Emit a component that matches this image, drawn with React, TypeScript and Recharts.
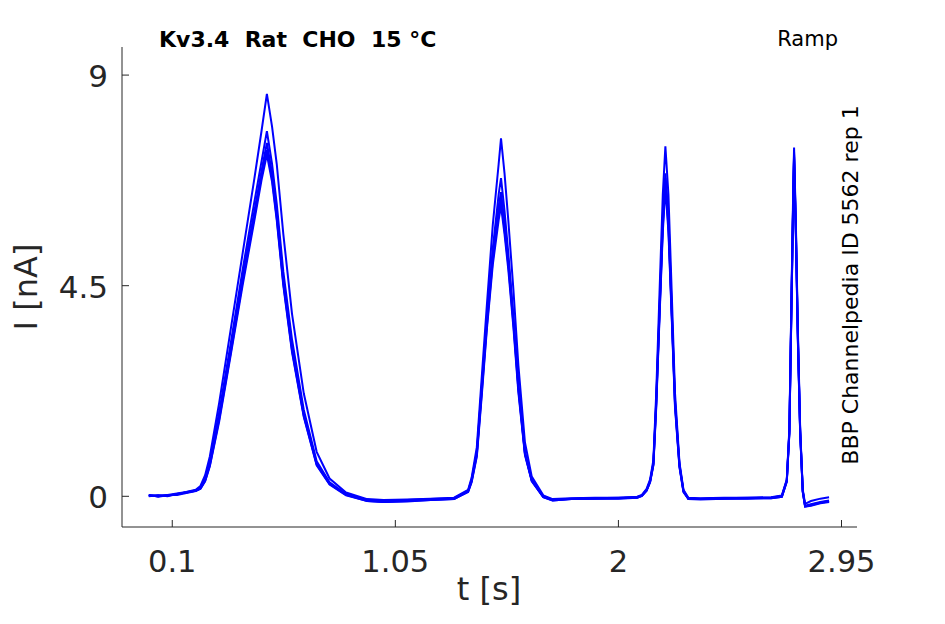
import React from "react";
import { LineChart, Line, XAxis, YAxis } from "recharts";

// time samples (s)
const TIME = [
  0, 0.04, 0.08, 0.12, 0.16, 0.2,
  0.22, 0.24, 0.26, 0.3, 0.35, 0.4, 0.45, 0.48, 0.503,
  0.525, 0.545, 0.573, 0.61, 0.66, 0.715, 0.77, 0.84, 0.93,
  1.0, 1.1, 1.2, 1.3, 1.36,
  1.375, 1.397, 1.418, 1.44, 1.465, 1.49, 1.5,
  1.515, 1.531, 1.553, 1.574, 1.602, 1.631, 1.68, 1.72,
  1.8, 1.9, 2.0, 2.08,
  2.1, 2.12, 2.135, 2.149, 2.161, 2.175, 2.189, 2.2,
  2.213, 2.227, 2.241, 2.26, 2.277, 2.298,
  2.35, 2.45, 2.55, 2.65,
  2.696, 2.717, 2.728, 2.737, 2.744, 2.748,
  2.756, 2.764, 2.774, 2.785, 2.795,
  2.82, 2.86, 2.897,
];

// current traces (nA)
const TRACE_A = [
  0.02, 0.0, 0.03, 0.06, 0.09, 0.14,
  0.22, 0.45, 0.85, 2.0, 3.6, 5.2, 6.8, 7.8, 8.6,
  7.9, 7.1, 5.6, 3.9, 2.2, 0.95, 0.38, 0.08, -0.06,
  -0.08, -0.07, -0.05, -0.03, 0.14,
  0.4, 1.05, 2.55, 4.1, 5.8, 7.1, 7.65,
  6.9, 5.9, 4.4, 2.8, 1.15, 0.42, 0.02, -0.06,
  -0.04, -0.03, -0.03, -0.01,
  0.03, 0.16, 0.36, 0.78, 2.2, 4.35, 6.45, 7.48,
  6.45, 4.35, 2.2, 0.72, 0.14, -0.03,
  -0.04, -0.03, -0.03, -0.02,
  0.02, 0.36, 1.45, 4.3, 6.45, 7.45,
  5.75, 3.6, 1.45, 0.14, -0.16,
  -0.1, -0.05, -0.02,
];
const TRACE_B = [
  0.01, 0.02, 0.0, 0.05, 0.08, 0.13,
  0.19, 0.38, 0.75, 1.8, 3.3, 4.85, 6.3, 7.15, 7.8,
  7.1, 6.25, 4.8, 3.35, 1.85, 0.75, 0.3, 0.05, -0.08,
  -0.1, -0.08, -0.06, -0.04, 0.12,
  0.36, 0.95, 2.35, 3.8, 5.3, 6.45, 6.8,
  6.1, 5.2, 3.85, 2.4, 0.95, 0.35, 0.0, -0.07,
  -0.05, -0.04, -0.03, -0.02,
  0.02, 0.14, 0.33, 0.72, 2.05, 4.0, 5.95, 6.9,
  5.95, 4.0, 2.05, 0.68, 0.12, -0.05,
  -0.05, -0.04, -0.03, -0.03,
  0.01, 0.34, 1.4, 4.2, 6.3, 7.35,
  5.65, 3.5, 1.4, 0.12, -0.2,
  -0.17, -0.12, -0.09,
];
const TRACE_C = [
  0.03, -0.01, 0.02, 0.04, 0.09, 0.12,
  0.17, 0.35, 0.7, 1.72, 3.2, 4.7, 6.1, 6.95, 7.55,
  6.9, 6.05, 4.62, 3.2, 1.77, 0.7, 0.27, 0.04, -0.09,
  -0.11, -0.09, -0.07, -0.05, 0.11,
  0.34, 0.92, 2.3, 3.75, 5.19, 6.2, 6.5,
  5.85, 5.05, 3.76, 2.34, 0.92, 0.34, -0.01, -0.08,
  -0.05, -0.04, -0.04, -0.02,
  0.02, 0.13, 0.32, 0.7, 2.0, 3.95, 5.85, 6.8,
  5.85, 3.95, 2.0, 0.66, 0.11, -0.05,
  -0.06, -0.04, -0.04, -0.03,
  0.0, 0.33, 1.38, 4.15, 6.25, 7.3,
  5.6, 3.45, 1.38, 0.11, -0.21,
  -0.18, -0.13, -0.1,
];
const TRACE_D = [
  0.0, 0.02, 0.01, 0.05, 0.08, 0.12,
  0.16, 0.33, 0.66, 1.65, 3.1, 4.6, 5.98, 6.85, 7.4,
  6.8, 5.95, 4.55, 3.12, 1.72, 0.68, 0.26, 0.03, -0.1,
  -0.12, -0.1, -0.08, -0.06, 0.1,
  0.32, 0.88, 2.22, 3.65, 5.05, 6.05, 6.35,
  5.7, 4.95, 3.68, 2.28, 0.9, 0.33, -0.02, -0.09,
  -0.06, -0.05, -0.04, -0.03,
  0.01, 0.12, 0.31, 0.68, 1.95, 3.88, 5.75, 6.7,
  5.75, 3.88, 1.95, 0.64, 0.1, -0.06,
  -0.06, -0.05, -0.04, -0.04,
  -0.01, 0.32, 1.36, 4.1, 6.2, 7.25,
  5.55, 3.4, 1.36, 0.1, -0.22,
  -0.19, -0.14, -0.11,
];
const TRACE_E = [
  0.02, 0.0, 0.03, 0.03, 0.07, 0.11,
  0.16, 0.32, 0.64, 1.6, 3.05, 4.52, 5.9, 6.75, 7.3,
  6.72, 5.9, 4.5, 3.08, 1.7, 0.66, 0.25, 0.02, -0.1,
  -0.12, -0.11, -0.08, -0.06, 0.09,
  0.3, 0.85, 2.15, 3.58, 4.95, 5.9, 6.2,
  5.6, 4.85, 3.6, 2.22, 0.88, 0.32, -0.02, -0.09,
  -0.06, -0.05, -0.05, -0.03,
  0.01, 0.12, 0.3, 0.66, 1.9, 3.82, 5.65, 6.6,
  5.65, 3.82, 1.9, 0.62, 0.09, -0.06,
  -0.07, -0.05, -0.05, -0.04,
  -0.01, 0.31, 1.34, 4.05, 6.15, 7.2,
  5.5, 3.35, 1.34, 0.09, -0.22,
  -0.2, -0.15, -0.12,
];

const X_TICKS = [0.1, 1.05, 2, 2.95];
const X_TICK_LABELS = ["0.1", "1.05", "2", "2.95"];
const Y_TICKS = [0, 4.5, 9];
const Y_TICK_LABELS = ["0", "4.5", "9"];

const SERIES = [
  { key: "a", values: TRACE_A },
  { key: "b", values: TRACE_B },
  { key: "c", values: TRACE_C },
  { key: "d", values: TRACE_D },
  { key: "e", values: TRACE_E },
];

const data = TIME.map((t, i) => {
  const row: Record<string, number> = { t };
  SERIES.forEach((s) => {
    row[s.key] = s.values[i];
  });
  return row;
});

const AXIS_COLOR = "#262626";
const FONT = "'DejaVu Sans', sans-serif";

const XTick = (props: any) => {
  const { x, y, payload } = props;
  const idx = X_TICKS.indexOf(payload.value);
  const label = idx >= 0 ? X_TICK_LABELS[idx] : String(payload.value);
  return (
    <g>
      <line x1={x} x2={x} y1={y} y2={y - 7} stroke={AXIS_COLOR} strokeWidth={1} />
      <text x={x} y={y + 45} textAnchor="middle" fontSize={30.5} fontFamily={FONT} fill={AXIS_COLOR}>
        {label}
      </text>
    </g>
  );
};

const YTick = (props: any) => {
  const { x, y, payload } = props;
  const idx = Y_TICKS.indexOf(payload.value);
  const label = idx >= 0 ? Y_TICK_LABELS[idx] : String(payload.value);
  return (
    <g>
      <line x1={x} x2={x + 7} y1={y} y2={y} stroke={AXIS_COLOR} strokeWidth={1} />
      <text x={x - 14} y={y + 12} textAnchor="end" fontSize={31} fontFamily={FONT} fill={AXIS_COLOR}>
        {label}
      </text>
    </g>
  );
};

export default function App() {
  return (
    <div style={{ position: "relative", width: 945, height: 624, background: "#fff" }}>
      <style>{`body{margin:0;}`}</style>
      <LineChart
        width={945}
        height={624}
        data={data}
        margin={{ top: 47, right: 88, bottom: 0, left: 0 }}
      >
        <XAxis
          dataKey="t"
          type="number"
          domain={[-0.114, 3.016]}
          ticks={X_TICKS}
          allowDataOverflow
          height={97}
          tickSize={0}
          tickMargin={0}
          tickLine={false}
          axisLine={{ stroke: AXIS_COLOR, strokeWidth: 1 }}
          tick={<XTick />}
          interval={0}
        />
        <YAxis
          type="number"
          domain={[-0.656, 9.6]}
          ticks={Y_TICKS}
          allowDataOverflow
          width={122}
          tickSize={0}
          tickMargin={0}
          tickLine={false}
          axisLine={{ stroke: AXIS_COLOR, strokeWidth: 1 }}
          tick={<YTick />}
          interval={0}
        />
        {SERIES.map((s) => (
          <Line
            key={s.key}
            dataKey={s.key}
            type="linear"
            stroke="#0000ff"
            strokeWidth={2}
            dot={false}
            activeDot={false}
            isAnimationActive={false}
          />
        ))}
      </LineChart>
      <svg
        width={945}
        height={624}
        style={{ position: "absolute", left: 0, top: 0, pointerEvents: "none" }}
      >
        <text x={159} y={47} fontSize={22} fontWeight="bold" fontFamily={FONT} fill="#000" style={{ whiteSpace: "pre" }}>
          {"Kv3.4  Rat  CHO  15 °C"}
        </text>
        <text x={838} y={46} fontSize={21} textAnchor="end" fontFamily={FONT} fill="#000">
          Ramp
        </text>
        <text
          transform="translate(858,285) rotate(-90)"
          fontSize={22}
          textAnchor="middle"
          fontFamily={FONT}
          fill="#000"
        >
          BBP Channelpedia ID 5562 rep 1
        </text>
        <text x={489} y={600} fontSize={32} textAnchor="middle" fontFamily={FONT} fill={AXIS_COLOR}>
          t [s]
        </text>
        <text
          transform="translate(37,287) rotate(-90)"
          fontSize={32}
          textAnchor="middle"
          fontFamily={FONT}
          fill={AXIS_COLOR}
        >
          I [nA]
        </text>
      </svg>
    </div>
  );
}
